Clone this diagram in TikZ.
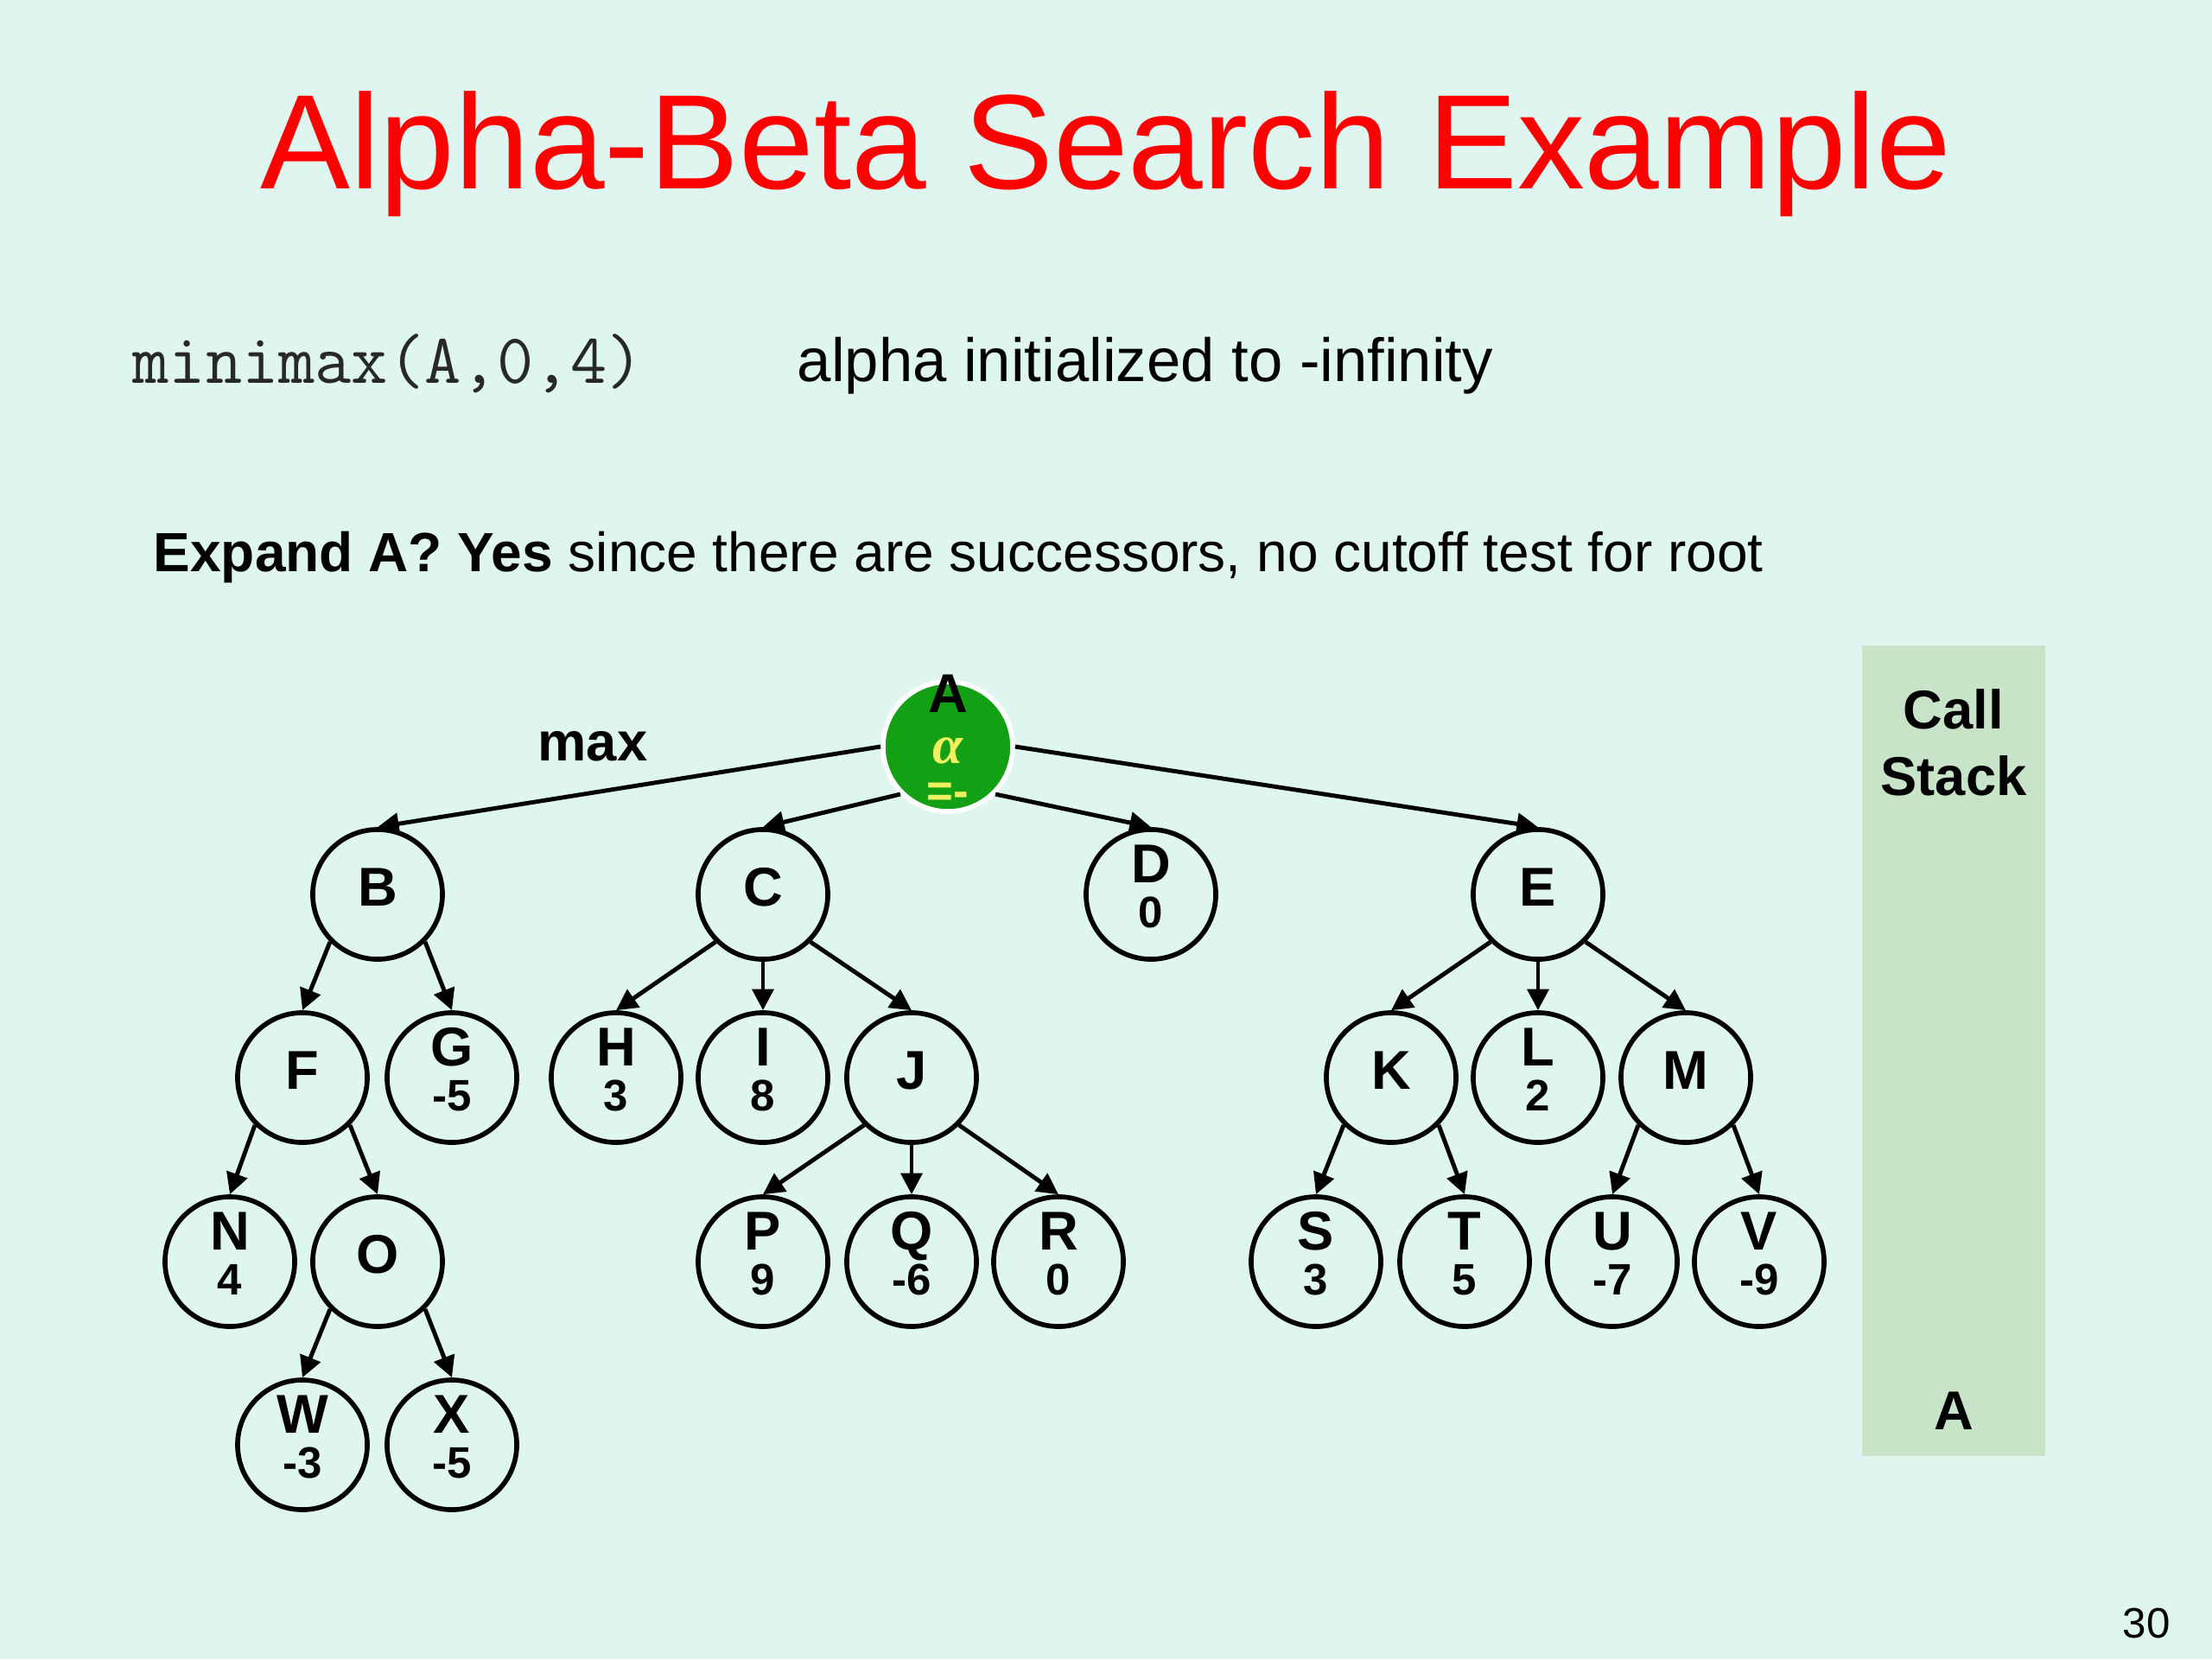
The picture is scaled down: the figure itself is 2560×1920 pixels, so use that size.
\documentclass[tikz,border=0pt]{standalone}
\usepackage{fontspec}
\setmainfont{Liberation Sans}
\newfontfamily\seriffont{Liberation Serif}
\usetikzlibrary{arrows.meta}
\definecolor{bgc}{RGB}{223,246,240}
\definecolor{stackc}{RGB}{200,228,200}
\definecolor{rootc}{RGB}{20,160,20}
\definecolor{yelc}{RGB}{240,240,96}
\definecolor{codec}{RGB}{40,40,40}
\newcommand\nodeone[1]{\makebox[0pt]{\raisebox{-3.84pt}[0pt][0pt]{\fontsize{18pt}{20pt}\selectfont\bfseries #1}}}
\newcommand\nodetwo[2]{\makebox[0pt]{\raisebox{3.8pt}[0pt][0pt]{\fontsize{18pt}{20pt}\selectfont\bfseries #1}}\makebox[0pt]{\raisebox{-11.0pt}[0pt][0pt]{\fontsize{14.5pt}{16pt}\selectfont\bfseries #2}}}
\newcommand\rootlabel{\makebox[0pt]{\raisebox{11.1pt}[0pt][0pt]{\fontsize{18pt}{20pt}\selectfont\bfseries A}}\makebox[0pt]{\raisebox{-5.6pt}[0pt][0pt]{\color{yelc}\seriffont\itshape\bfseries\fontsize{18pt}{20pt}\selectfont α}}\makebox[0pt]{\raisebox{-19.8pt}[0pt][0pt]{\color{yelc}\fontsize{15pt}{17pt}\selectfont\bfseries =-}}}
\tikzset{
  vnode/.style={circle, draw=black, line width=1.6pt, minimum size=1.5cm, inner sep=0pt},
  rootnode/.style={circle, fill=rootc, draw=white, line width=1.6pt, minimum size=1.5cm, inner sep=0pt},
  arrowline/.style={line width=1.4pt, -{Triangle[length=7pt,width=7pt]}},
  txt/.style={inner sep=0pt, text=black},
}
\begin{document}
\begin{tikzpicture}[x=0.01cm, y=-0.01cm]
\useasboundingbox (0,0) rectangle (2560,1920);
\fill[bgc] (0,0) rectangle (2560,1920);
% call stack panel
\fill[stackc] (2155,747) rectangle (2367,1685);

% texts
\node[txt, anchor=base, text=red, font=\fontsize{44.3pt}{50pt}\selectfont] (title) at (1280,218) {Alpha-Beta Search Example};
\node[txt, anchor=base west, text=codec, font=\ttfamily\fontsize{23.3pt}{26pt}\selectfont] (mm) at (153,443) {minimax(A,0,4)};
\node[txt, anchor=base west, font=\fontsize{20.1pt}{24pt}\selectfont] (alinit) at (922,441) {alpha initialized to -infinity};
\node[txt, anchor=base west, font=\fontsize{18.2pt}{22pt}\selectfont] (expand) at (177,661) {\textbf{Expand A? Yes} since there are successors, no cutoff test for root};
\node[txt, anchor=base, font=\fontsize{18pt}{22pt}\selectfont\bfseries] (maxl) at (686,880) {max};
\node[txt, anchor=base, font=\fontsize{18pt}{22pt}\selectfont\bfseries] (callL) at (2261,843) {Call};
\node[txt, anchor=base, font=\fontsize{18pt}{22pt}\selectfont\bfseries] (stackL) at (2261,920) {Stack};
\node[txt, anchor=base, font=\fontsize{18pt}{22pt}\selectfont\bfseries] (stackA) at (2261,1654) {A};
\node[txt, anchor=base, font=\fontsize{14pt}{16pt}\selectfont] (pnum) at (2484,1895) {30};

% tree nodes
\node[rootnode] (A) at (1097,864) {\rootlabel};
\node[vnode] (B) at (437,1035) {\nodeone{B}};
\node[vnode] (C) at (883,1035) {\nodeone{C}};
\node[vnode] (D) at (1332,1035) {\nodetwo{D}{0}};
\node[vnode] (E) at (1780,1035) {\nodeone{E}};
\node[vnode] (F) at (350,1247) {\nodeone{F}};
\node[vnode] (G) at (523,1247) {\nodetwo{G}{-5}};
\node[vnode] (H) at (713,1247) {\nodetwo{H}{3}};
\node[vnode] (I) at (883,1247) {\nodetwo{I}{8}};
\node[vnode] (J) at (1055,1247) {\nodeone{J}};
\node[vnode] (K) at (1610,1247) {\nodeone{K}};
\node[vnode] (L) at (1780,1247) {\nodetwo{L}{2}};
\node[vnode] (M) at (1951,1247) {\nodeone{M}};
\node[vnode] (N) at (266,1460) {\nodetwo{N}{4}};
\node[vnode] (O) at (437,1460) {\nodeone{O}};
\node[vnode] (P) at (883,1460) {\nodetwo{P}{9}};
\node[vnode] (Q) at (1055,1460) {\nodetwo{Q}{-6}};
\node[vnode] (R) at (1225,1460) {\nodetwo{R}{0}};
\node[vnode] (S) at (1523,1460) {\nodetwo{S}{3}};
\node[vnode] (T) at (1695,1460) {\nodetwo{T}{5}};
\node[vnode] (U) at (1866,1460) {\nodetwo{U}{-7}};
\node[vnode] (V) at (2036,1460) {\nodetwo{V}{-9}};
\node[vnode] (W) at (350,1672) {\nodetwo{W}{-3}};
\node[vnode] (X) at (523,1672) {\nodetwo{X}{-5}};

% connectors
\draw[arrowline] (A.west) -- (B.north);
\draw[arrowline] (A.south west) -- (C.north);
\draw[arrowline] (A.south east) -- (D.north);
\draw[arrowline] (A.east) -- (E.north);
\draw[arrowline] (B.south west) -- (F.north);
\draw[arrowline] (B.south east) -- (G.north);
\draw[arrowline] (C.south west) -- (H.north);
\draw[arrowline] (C.south) -- (I.north);
\draw[arrowline] (C.south east) -- (J.north);
\draw[arrowline] (E.south west) -- (K.north);
\draw[arrowline] (E.south) -- (L.north);
\draw[arrowline] (E.south east) -- (M.north);
\draw[arrowline] (F.south west) -- (N.north);
\draw[arrowline] (F.south east) -- (O.north);
\draw[arrowline] (J.south west) -- (P.north);
\draw[arrowline] (J.south) -- (Q.north);
\draw[arrowline] (J.south east) -- (R.north);
\draw[arrowline] (K.south west) -- (S.north);
\draw[arrowline] (K.south east) -- (T.north);
\draw[arrowline] (M.south west) -- (U.north);
\draw[arrowline] (M.south east) -- (V.north);
\draw[arrowline] (O.south west) -- (W.north);
\draw[arrowline] (O.south east) -- (X.north);
\end{tikzpicture}
\end{document}
